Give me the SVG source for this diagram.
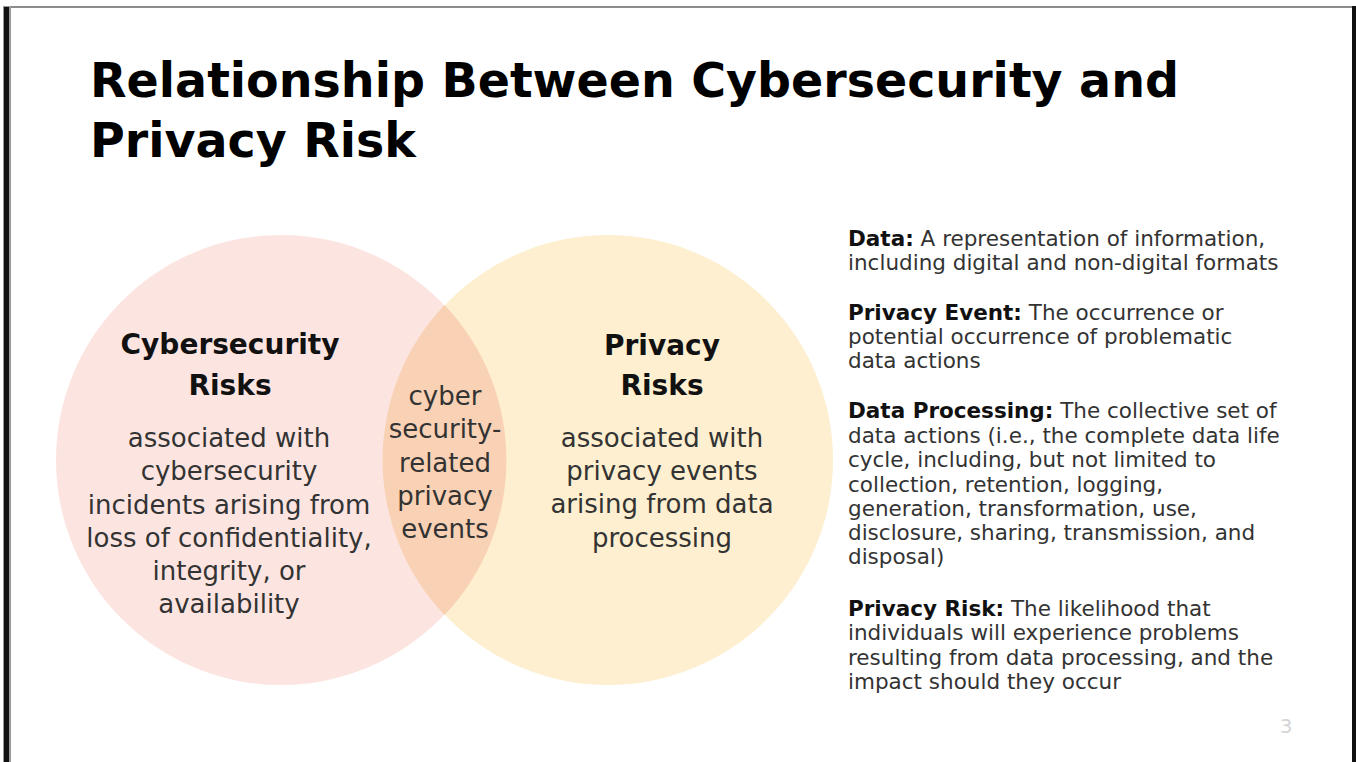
<svg xmlns="http://www.w3.org/2000/svg" width="1356" height="762" viewBox="0 0 1356 762">
<style>
  text { font-family: "DejaVu Sans", "Liberation Sans", sans-serif; }
  .title { font-size: 47.5px; font-weight: bold; fill: #000; }
  .head { font-size: 28px; font-weight: bold; fill: #111; text-anchor: middle; }
  .body { font-size: 26px; fill: #333; text-anchor: middle; }
  .def { font-size: 21.5px; fill: #333; }
  .def .term { font-weight: bold; fill: #111; }
  .pg { font-size: 20px; fill: #d4d4d4; text-anchor: middle; }
</style>
<rect x="0" y="0" width="1356" height="762" fill="#fff"/>
<g id="frame">
  <rect x="3" y="6" width="1350" height="2" fill="#8c8c8c"/>
  <rect x="3" y="6" width="8" height="756" fill="#999"/>
  <rect x="4" y="7" width="5" height="755" fill="#111"/>
  <rect x="1352" y="6" width="4" height="756" fill="#111"/>
</g>
<g id="title">
  <text class="title" x="90" y="97">Relationship Between Cybersecurity and</text>
  <text class="title" x="90" y="157">Privacy Risk</text>
</g>
<g id="venn-circles">
  <circle id="circle-cyber" cx="281" cy="460" r="225" fill="#fce5e1"/>
  <circle id="circle-privacy" cx="608" cy="460" r="225" fill="#fdefcf"/>
  <path id="overlap" d="M444.5 305 A225 225 0 0 1 444.5 615 A225 225 0 0 1 444.5 305 Z" fill="#f9d1b4"/>
</g>
<g id="node-cyber">
  <text class="head" x="230" y="354">Cybersecurity</text>
  <text class="head" x="230" y="395">Risks</text>
  <text class="body" x="229" y="447">associated with</text>
  <text class="body" x="229" y="480">cybersecurity</text>
  <text class="body" x="229" y="513.5">incidents arising from</text>
  <text class="body" x="229" y="547">loss of confidentiality,</text>
  <text class="body" x="229" y="580">integrity, or</text>
  <text class="body" x="229" y="613">availability</text>
</g>
<g id="node-overlap">
  <text class="body" x="445" y="405">cyber</text>
  <text class="body" x="445" y="438">security-</text>
  <text class="body" x="445" y="472">related</text>
  <text class="body" x="445" y="505">privacy</text>
  <text class="body" x="445" y="538">events</text>
</g>
<g id="node-privacy">
  <text class="head" x="662" y="355">Privacy</text>
  <text class="head" x="662" y="395">Risks</text>
  <text class="body" x="662" y="447">associated with</text>
  <text class="body" x="662" y="480">privacy events</text>
  <text class="body" x="662" y="513">arising from data</text>
  <text class="body" x="662" y="547">processing</text>
</g>
<g id="definitions">
  <text class="def" x="848" y="246"><tspan class="term">Data:</tspan> A representation of information,</text>
  <text class="def" x="848" y="270">including digital and non-digital formats</text>
  <text class="def" x="848" y="320"><tspan class="term">Privacy Event:</tspan> The occurrence or</text>
  <text class="def" x="848" y="344">potential occurrence of problematic</text>
  <text class="def" x="848" y="368">data actions</text>
  <text class="def" x="848" y="418"><tspan class="term">Data Processing:</tspan> The collective set of</text>
  <text class="def" x="848" y="443">data actions (i.e., the complete data life</text>
  <text class="def" x="848" y="467">cycle, including, but not limited to</text>
  <text class="def" x="848" y="492">collection, retention, logging,</text>
  <text class="def" x="848" y="516">generation, transformation, use,</text>
  <text class="def" x="848" y="540">disclosure, sharing, transmission, and</text>
  <text class="def" x="848" y="564">disposal)</text>
  <text class="def" x="848" y="616"><tspan class="term">Privacy Risk:</tspan> The likelihood that</text>
  <text class="def" x="848" y="640">individuals will experience problems</text>
  <text class="def" x="848" y="665">resulting from data processing, and the</text>
  <text class="def" x="848" y="689">impact should they occur</text>
</g>
<g id="page-number">
  <text class="pg" x="1286" y="733">3</text>
</g>
</svg>
